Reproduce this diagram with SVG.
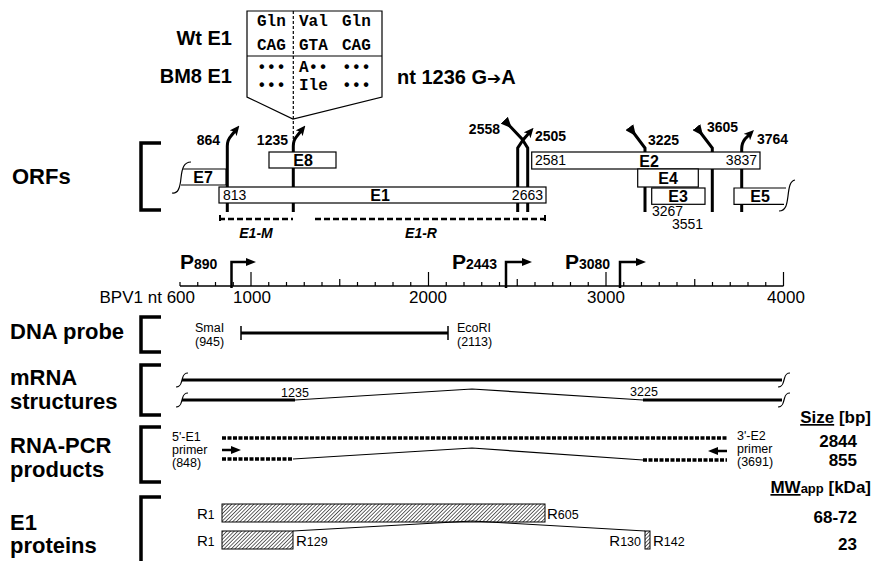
<svg xmlns="http://www.w3.org/2000/svg" width="873" height="561" viewBox="0 0 873 561">
<style>
text{font-family:"Liberation Sans",Arial,Helvetica,sans-serif;fill:#000}
.big{font-weight:bold;font-size:22px}
.mid{font-weight:bold;font-size:20px}
.bn{font-weight:bold;font-size:14px}
.n{font-size:14px}
.s{font-size:12.5px}
.bx{font-weight:bold;font-size:16px}
.mono{font-family:"Liberation Mono","Courier New",monospace;font-weight:bold;font-size:16px}
.box{fill:#fff;stroke:#000;stroke-width:1.2}
.th{fill:none;stroke:#000;stroke-width:3}
.tn{fill:none;stroke:#000;stroke-width:1.2}
.br{fill:none;stroke:#000;stroke-width:3.5}
.dot{fill:none;stroke:#000;stroke-width:3.5;stroke-dasharray:4 1.5}
.hat{fill:url(#hatch);stroke:#000;stroke-width:1}
</style>
<defs>
<marker id="ah" viewBox="0 0 10 9" refX="3" refY="4.5" markerWidth="10" markerHeight="9" markerUnits="userSpaceOnUse" orient="auto"><path d="M0,0 L10,4.5 L0,9 L2.5,4.5 z"/></marker>
<marker id="acc" viewBox="0 0 10 9" refX="1" refY="4.5" markerWidth="11" markerHeight="10" markerUnits="userSpaceOnUse" orient="auto"><path d="M0,0 L10,4.5 L0,9 z"/></marker>
<marker id="pa" viewBox="0 0 10 8" refX="2" refY="4" markerWidth="10" markerHeight="8" markerUnits="userSpaceOnUse" orient="auto"><path d="M0,0 L10,4 L0,8 z"/></marker>
<pattern id="hatch" patternUnits="userSpaceOnUse" width="2.6" height="2.6" patternTransform="rotate(45)"><rect width="2.6" height="2.6" fill="#fff"/><line x1="0" y1="0" x2="0" y2="2.6" stroke="#000" stroke-width="1.2"/></pattern>
</defs>
<rect width="873" height="561" fill="#fff"/>

<!-- left section labels and brackets -->
<g id="labels">
<text class="big" x="12" y="184">ORFs</text>
<text class="big" x="10" y="339">DNA probe</text>
<text class="big" x="10" y="385">mRNA</text>
<text class="big" x="10" y="409">structures</text>
<text class="big" x="10" y="453">RNA-PCR</text>
<text class="big" x="10" y="477">products</text>
<text class="big" x="10" y="530" font-size="21">E1</text>
<text class="big" x="10" y="553" font-size="21">proteins</text>
<path class="br" d="M161,143 H141 V210 H161"/>
<path class="br" d="M161,317 H141 V352 H161"/>
<path class="br" d="M161,365 H141 V415 H161"/>
<path class="br" d="M161,427 H141 V482 H161"/>
<path class="br" d="M161,497 H141 V561"/>
</g>

<!-- codon box -->
<g id="codon">
<text class="mid" x="232" y="45" text-anchor="end">Wt E1</text>
<text class="mid" x="232" y="83" text-anchor="end">BM8 E1</text>
<text class="mid" x="397" y="84">nt 1236 G<tspan font-family="'DejaVu Sans',sans-serif" font-size="17">➔</tspan>A</text>
<path class="box" d="M247,11 H382 V97 L293,119 L247,97 Z"/>
<line x1="247" y1="56" x2="382" y2="56" stroke="#000" stroke-width="1.2"/>
<line x1="293.3" y1="11" x2="293.3" y2="140" stroke="#000" stroke-width="1.2" stroke-dasharray="3 2"/>
<text class="mono" x="257" y="26">Gln</text><text class="mono" x="299" y="26">Val</text><text class="mono" x="342" y="26">Gln</text>
<text class="mono" x="257" y="50">CAG</text><text class="mono" x="299" y="50">GTA</text><text class="mono" x="342" y="50">CAG</text>
<text class="mono" x="257" y="72">•••</text><text class="mono" x="299" y="72">A••</text><text class="mono" x="342" y="72">•••</text>
<text class="mono" x="257" y="90">•••</text><text class="mono" x="299" y="90">Ile</text><text class="mono" x="342" y="90">•••</text>
</g>

<!-- ORF site lines -->
<g id="sites">
<path class="th" d="M227.3,212 V146 Q227.3,140 231,136 L235,131" marker-end="url(#ah)"/>
<path class="th" d="M293.3,212 V146 Q293.3,140 297,136 L301,131" marker-end="url(#ah)"/>
<path class="th" d="M517.7,212 V148 L523,140 L529,133" marker-end="url(#ah)"/>
<path class="th" d="M505,121 L522,139 L527.7,148 V212" marker-start="url(#acc)"/>
<path class="th" d="M630,128 L645,148 V212" marker-start="url(#acc)"/>
<path class="th" d="M697,128 L712.3,148 V212" marker-start="url(#acc)"/>
<path class="th" d="M741.7,212 V149 Q741.7,143 745,139 L749,135" marker-end="url(#ah)"/>
<text class="bn" x="220" y="145" text-anchor="end">864</text>
<text class="bn" x="288" y="145" text-anchor="end">1235</text>
<text class="bn" x="500" y="134" text-anchor="end">2558</text>
<text class="bn" x="535" y="141">2505</text>
<text class="bn" x="648" y="145">3225</text>
<text class="bn" x="707" y="132">3605</text>
<text class="bn" x="757" y="144">3764</text>
</g>

<!-- ORF boxes -->
<g id="E7">
<path class="box" d="M183,169 H226 V185 H181"/>
<path class="tn" d="M172,193 C178,194 180,188 181,178 C182,168 184,162 191,162"/>
<text class="bx" x="203" y="183" text-anchor="middle">E7</text>
</g>
<g id="E1">
<rect class="box" x="219" y="187" width="327" height="16"/>
<text class="n" x="223" y="200">813</text>
<text class="bx" x="380" y="201" text-anchor="middle">E1</text>
<text class="n" x="543" y="200" text-anchor="end">2663</text>
</g>
<g id="E8">
<rect class="box" x="269" y="152" width="67" height="16"/>
<text class="bx" x="303" y="166" text-anchor="middle">E8</text>
</g>
<g id="E2">
<rect class="box" x="531.7" y="152" width="228.3" height="17"/>
<text class="n" x="535" y="165">2581</text>
<text class="bx" x="649" y="167" text-anchor="middle">E2</text>
<text class="n" x="757" y="165" text-anchor="end">3837</text>
</g>
<g id="E4">
<rect class="box" x="637.7" y="169" width="60.6" height="18"/>
<text class="bx" x="668" y="184" text-anchor="middle">E4</text>
</g>
<g id="E3">
<rect class="box" x="651.7" y="188" width="53.3" height="16.3"/>
<text class="bx" x="678" y="202" text-anchor="middle">E3</text>
<text class="n" x="652" y="216">3267</text>
<text class="n" x="672" y="229">3551</text>
</g>
<g id="E5">
<path class="box" d="M786,188 H734 V204.3 H784"/>
<path class="tn" d="M779,211 C786,211 787,204 788,196 C789,187 790,181 795,180"/>
<text class="bx" x="760" y="202" text-anchor="middle">E5</text>
</g>
<g id="E1-domains">
<path d="M219,219 H293" stroke="#000" stroke-width="2.5" stroke-dasharray="6 3" fill="none"/>
<path d="M315,219 H546" stroke="#000" stroke-width="2.5" stroke-dasharray="6 3" fill="none"/>
<path d="M220,215 V221 M545,215 V221" stroke="#000" stroke-width="2" fill="none"/>
<text class="bn" x="256" y="238" text-anchor="middle" font-style="italic" font-size="15">E1-M</text>
<text class="bn" x="421" y="238" text-anchor="middle" font-style="italic" font-size="15">E1-R</text>
</g>

<!-- axis and promoters -->
<g id="axis">
<line x1="180" y1="286" x2="783.5" y2="286" stroke="#000" stroke-width="1.5"/>
<path stroke="#000" stroke-width="1.2" fill="none" d="M180,286V282 M197.75,286V282 M215.5,286V282 M233.25,286V282 M268.75,286V282 M286.5,286V282 M304.25,286V282 M322,286V282 M357.5,286V282 M375.25,286V282 M393,286V282 M410.75,286V282 M446.25,286V282 M464,286V282 M481.75,286V282 M499.5,286V282 M535,286V282 M552.75,286V282 M570.5,286V282 M588.25,286V282 M623.75,286V282 M641.5,286V282 M659.25,286V282 M677,286V282 M712.5,286V282 M730.25,286V282 M748,286V282 M765.75,286V282"/>
<path stroke="#000" stroke-width="1.2" fill="none" d="M339.75,286V279 M517.25,286V279 M694.75,286V279"/>
<path stroke="#000" stroke-width="1.2" fill="none" d="M251,286V272 M428.5,286V272 M606,286V272 M783.5,286V272"/>
<text x="195" y="303" font-size="17" text-anchor="end">BPV1 nt 600</text>
<text x="252" y="303" font-size="17" text-anchor="middle">1000</text>
<text x="428" y="303" font-size="17" text-anchor="middle">2000</text>
<text x="606" y="303" font-size="17" text-anchor="middle">3000</text>
<text x="786" y="303" font-size="17" text-anchor="middle">4000</text>
</g>
<g id="promoters">
<path d="M231.5,288 V262 H248" stroke="#000" stroke-width="2.5" fill="none" marker-end="url(#pa)"/>
<path d="M506,288 V262 H524" stroke="#000" stroke-width="2.5" fill="none" marker-end="url(#pa)"/>
<path d="M620,288 V262 H638" stroke="#000" stroke-width="2.5" fill="none" marker-end="url(#pa)"/>
<text x="180" y="269" font-weight="bold" font-size="21">P<tspan font-size="14">890</tspan></text>
<text x="452" y="269" font-weight="bold" font-size="21">P<tspan font-size="14">2443</tspan></text>
<text x="565" y="269" font-weight="bold" font-size="21">P<tspan font-size="14">3080</tspan></text>
</g>

<!-- DNA probe -->
<g id="probe">
<path d="M241,333 H448" stroke="#000" stroke-width="3" fill="none"/>
<path d="M241,326 V340 M448,326 V340" stroke="#000" stroke-width="1.5" fill="none"/>
<text class="s" x="195" y="332">SmaI</text>
<text class="s" x="195" y="346">(945)</text>
<text class="s" x="457" y="332">EcoRI</text>
<text class="s" x="457" y="346">(2113)</text>
</g>

<!-- mRNA -->
<g id="mrna">
<path class="th" d="M182,380 H782"/>
<path class="tn" d="M176,387 C181,387 181,383 182,380 C183,377 183,373 188,373"/>
<path class="tn" d="M778,387 C783,387 783,383 784,380 C785,377 785,373 790,373"/>
<path class="th" d="M182,400 H295 M643,400 H782"/>
<path class="tn" d="M295,400 L472,389 L643,400"/>
<path class="tn" d="M176,407 C181,407 181,403 182,400 C183,397 183,393 188,393"/>
<path class="tn" d="M778,407 C783,407 783,403 784,400 C785,397 785,393 790,393"/>
<text class="s" x="295" y="397" text-anchor="middle">1235</text>
<text class="s" x="644" y="396" text-anchor="middle">3225</text>
</g>

<!-- RNA-PCR -->
<g id="pcr">
<path class="dot" d="M222,438 H727"/>
<path class="dot" d="M222,459 H293 M643,460 H727"/>
<path class="tn" d="M293,459 L472,448 L643,460"/>
<path d="M222,450 H233" stroke="#000" stroke-width="2.5" fill="none" marker-end="url(#pa)"/>
<path d="M727,451 H716" stroke="#000" stroke-width="2.5" fill="none" marker-end="url(#pa)"/>
<text class="s" x="172" y="441">5'-E1</text>
<text class="s" x="172" y="454">primer</text>
<text class="s" x="172" y="467">(848)</text>
<text class="s" x="737" y="440">3'-E2</text>
<text class="s" x="737" y="453">primer</text>
<text class="s" x="737" y="466">(3691)</text>
</g>

<!-- sizes -->
<g id="sizes">
<text x="871" y="423" font-weight="bold" font-size="17" text-anchor="end"><tspan text-decoration="underline">Size</tspan> [bp]</text>
<text x="857" y="447" font-weight="bold" font-size="17" text-anchor="end">2844</text>
<text x="857" y="466" font-weight="bold" font-size="17" text-anchor="end">855</text>
<text x="871" y="493" font-weight="bold" font-size="17" text-anchor="end"><tspan text-decoration="underline">MW</tspan><tspan font-size="13">app</tspan> [kDa]</text>
<text x="857" y="523" font-weight="bold" font-size="17" text-anchor="end">68-72</text>
<text x="857" y="550" font-weight="bold" font-size="17" text-anchor="end">23</text>
</g>

<!-- E1 proteins -->
<g id="proteins">
<rect class="hat" x="222" y="504" width="323" height="18"/>
<rect class="hat" x="222" y="531" width="71" height="18"/>
<rect class="hat" x="645" y="531" width="5" height="18"/>
<path d="M293,531 L472,521 L645,531" stroke="#000" stroke-width="1" fill="none"/>
<text x="197" y="519" font-size="15">R<tspan font-size="12">1</tspan></text>
<text x="547" y="519" font-size="15">R<tspan font-size="12.5">605</tspan></text>
<text x="197" y="546" font-size="15">R<tspan font-size="12">1</tspan></text>
<text x="296" y="546" font-size="15">R<tspan font-size="12.5">129</tspan></text>
<text x="641" y="546" font-size="15" text-anchor="end">R<tspan font-size="12.5">130</tspan></text>
<text x="653" y="546" font-size="15">R<tspan font-size="12.5">142</tspan></text>
</g>
</svg>
